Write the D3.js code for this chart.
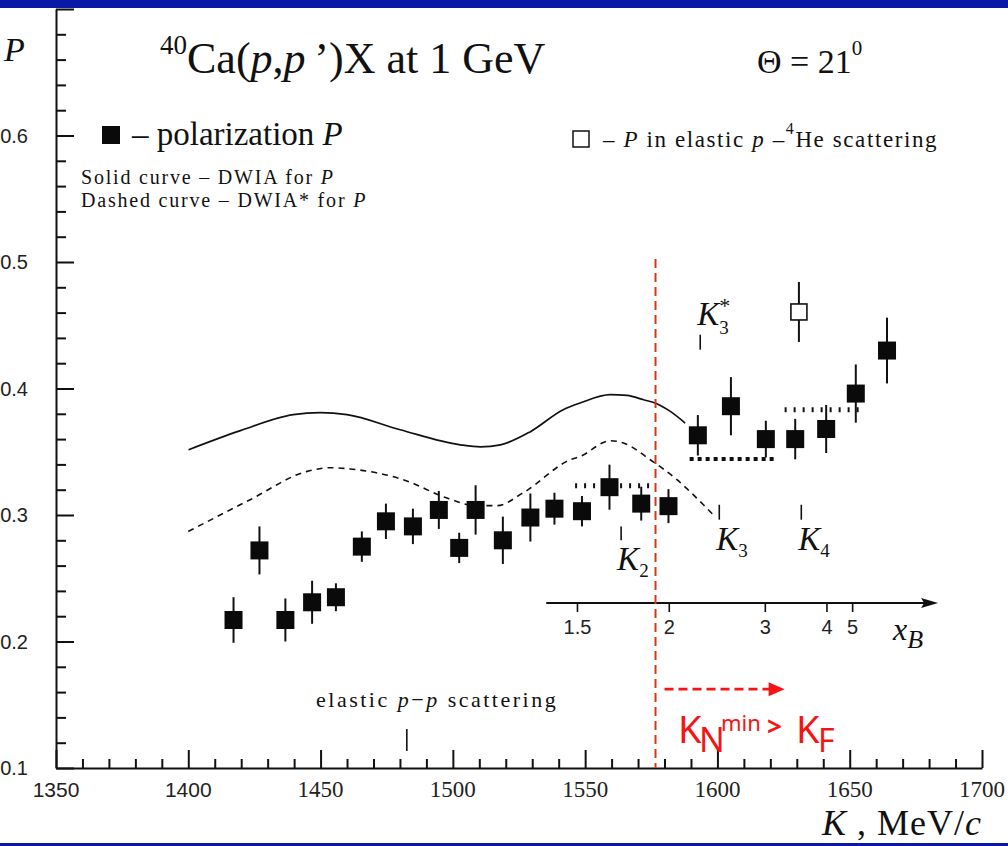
<!DOCTYPE html>
<html>
<head>
<meta charset="utf-8">
<script src="https://cdn.jsdelivr.net/npm/d3@7"></script>
<style>
  body { margin: 0; background: #fff; }
  svg { display: block; }
</style>
</head>
<body>
<div id="chart"></div>
<script>
// Data ----------------------------------------------------------------------------------------------------------------
// 40Ca(p,p')X polarization vs momentum K (MeV/c)
const kPoints = [1417.1, 1426.9, 1436.7, 1446.8, 1455.8, 1465.6, 1474.7, 1484.9, 1494.7, 1502.4, 1508.6, 1518.9, 1529.3,
  1538.4, 1548.8, 1559.2, 1571.2, 1581.5, 1592.6, 1605.1, 1618.3, 1629.4, 1641.1, 1652.3, 1664.1];
const polarization = [0.217, 0.272, 0.217, 0.231, 0.235, 0.275, 0.295, 0.291, 0.304, 0.274, 0.304, 0.280, 0.298,
  0.305, 0.303, 0.322, 0.309, 0.307, 0.363, 0.386, 0.360, 0.360, 0.368, 0.396, 0.430];
const polErrors = [0.018, 0.019, 0.017, 0.017, 0.011, 0.012, 0.014, 0.014, 0.015, 0.012, 0.0195, 0.0187, 0.019,
  0.0126, 0.012, 0.0178, 0.0134, 0.0134, 0.016, 0.023, 0.0145, 0.016, 0.019, 0.023, 0.026];

// elastic p-4He point
const heK = [1630.8];
const heP = [0.4605];
const heErr = [0.0237];

// DWIA (solid) and DWIA* (dashed) curves
const dwiaK = [1400.1, 1419.7, 1439.7, 1449.9, 1460.0, 1480.1, 1502.8, 1510.4, 1518.0, 1529.3, 1541.7, 1548.1, 1559.5,
  1565.8, 1572.1, 1577.1, 1582.2, 1587.8];
const dwiaP = [0.3516, 0.3667, 0.3793, 0.3809, 0.3793, 0.3674, 0.3555, 0.3539, 0.3555, 0.3659, 0.3832, 0.3885, 0.3951,
  0.3945, 0.3911, 0.3880, 0.3819, 0.3727];
const dwiaStarK = [1400.0, 1423.4, 1444.9, 1453.7, 1461.2, 1481.3, 1497.8, 1508.5, 1516.7, 1526.6, 1544.4, 1548.1,
  1559.5, 1564.5, 1574.6, 1584.7, 1594.7, 1598.4];
const dwiaStarP = [0.2870, 0.3121, 0.3345, 0.3374, 0.3364, 0.3279, 0.3134, 0.3074, 0.3074, 0.3176, 0.3437, 0.3463,
  0.3587, 0.3569, 0.3437, 0.3279, 0.3081, 0.3002];

// dotted plateau levels
const plateauStart = [1546.2, 1589.5, 1625.4];
const plateauEnd = [1574.6, 1622.0, 1653.7];
const plateauP = [0.3232, 0.3443, 0.3832];

// threshold markers
const markerNames = ["K2", "K3", "K4", "K3*"];
const markerK = [1563.6, 1600.7, 1631.7, 1593.5];
const markerLow = [0.280, 0.2963, 0.2963, 0.4307];
const markerHigh = [0.291, 0.3081, 0.3081, 0.4425];
const elasticK = 1482.6;

// Bjorken x axis
const xbLabels = ["1.5", "2", "3", "4", "5"];
const xbTickK = [1547.1, 1581.8, 1618.1, 1641.4, 1651.1];
const xbStartK = 1535.3;
const xbEndK = 1683.4;
const xbLevel = 0.2304;

// Fermi momentum line
const fermiK = 1576.6;

// Axis ticks
const xMajorTicks = [1350, 1400, 1450, 1500, 1550, 1600, 1650, 1700];
const yMajorTicks = [0.1, 0.2, 0.3, 0.4, 0.5, 0.6, 0.7];
const yTickLabels = ["0.1", "0.2", "0.3", "0.4", "0.5", "0.6"];

// Canvas -------------------------------------------------------------------------------------------------------------
const canvasWidth = 1008;
const canvasHeight = 846;
const serif = "'Liberation Serif', 'Times New Roman', serif";
const sans = "'Liberation Sans', Arial, sans-serif";

const svg = d3.select("#chart")
  .append("svg")
  .attr("width", canvasWidth)
  .attr("height", canvasHeight);

svg.append("rect").attr("width", canvasWidth).attr("height", canvasHeight).attr("fill", "#fff");

const xScale = d3.scaleLinear().domain([1350, 1700]).range([56, 982]);
const yScale = d3.scaleLinear().domain([0.1, 0.7]).range([768, 9]);

// Axes ---------------------------------------------------------------------------------------------------------------
const xMinor = d3.range(1350, 1701, 10).filter(v => v % 50 !== 0);
const yMinor = d3.range(10, 71, 2).map(v => v / 100).filter(v => Math.round(v * 100) % 10 !== 0);

const xAxis = svg.append("g").attr("transform", "translate(0," + yScale(0.1) + ")");
xAxis.call(d3.axisTop(xScale).tickValues(xMajorTicks).tickSize(18).tickSizeOuter(0).tickFormat(""));
xAxis.append("g").call(d3.axisTop(xScale).tickValues(xMinor).tickSize(9).tickSizeOuter(0).tickFormat(""))
  .select(".domain").remove();

const yAxis = svg.append("g").attr("transform", "translate(" + xScale(1350) + ",0)");
yAxis.call(d3.axisRight(yScale).tickValues(yMajorTicks).tickSize(18).tickSizeOuter(0).tickFormat(""));
yAxis.append("g").call(d3.axisRight(yScale).tickValues(yMinor).tickSize(10).tickSizeOuter(0).tickFormat(""))
  .select(".domain").remove();

svg.selectAll(".domain, .tick line").attr("stroke", "#111").attr("stroke-width", 2);

svg.selectAll(".xlabel")
  .data(xMajorTicks)
  .enter()
  .append("text")
  .attr("x", d => xScale(d))
  .attr("y", 797)
  .attr("text-anchor", "middle")
  .style("font-family", d => d < 1450 ? sans : serif)
  .style("font-size", d => d < 1450 ? "21px" : "23px")
  .attr("fill", "#222")
  .text(d => d);

svg.selectAll(".ylabel")
  .data(yTickLabels)
  .enter()
  .append("text")
  .attr("x", 28)
  .attr("y", d => yScale(+d) + 7)
  .attr("text-anchor", "end")
  .style("font-family", sans)
  .style("font-size", "20px")
  .attr("fill", "#222")
  .text(d => d);

// Curves -------------------------------------------------------------------------------------------------------------
const line = d3.line().x(d => xScale(d[0])).y(d => yScale(d[1])).curve(d3.curveMonotoneX);

svg.append("path")
  .datum(d3.zip(dwiaK, dwiaP))
  .attr("d", line)
  .attr("fill", "none")
  .attr("stroke", "#111")
  .attr("stroke-width", 1.7);

svg.append("path")
  .datum(d3.zip(dwiaStarK, dwiaStarP))
  .attr("d", line)
  .attr("fill", "none")
  .attr("stroke", "#111")
  .attr("stroke-width", 1.6)
  .attr("stroke-dasharray", "6,5");

// Plateaus
svg.selectAll(".plateau")
  .data(d3.range(plateauP.length))
  .enter()
  .append("line")
  .attr("x1", i => xScale(plateauStart[i]))
  .attr("x2", i => xScale(plateauEnd[i]))
  .attr("y1", i => yScale(plateauP[i]))
  .attr("y2", i => yScale(plateauP[i]))
  .attr("stroke", "#111")
  .attr("stroke-width", i => i === 1 ? 4 : 5)
  .attr("stroke-dasharray", i => i === 1 ? "4,4" : "2,7");

// Data points --------------------------------------------------------------------------------------------------------
const squareSize = 18;
const points = d3.zip(kPoints, polarization, polErrors);

svg.selectAll(".err")
  .data(points)
  .enter()
  .append("line")
  .attr("x1", d => xScale(d[0]))
  .attr("x2", d => xScale(d[0]))
  .attr("y1", d => yScale(d[1] - d[2]))
  .attr("y2", d => yScale(d[1] + d[2]))
  .attr("stroke", "#111")
  .attr("stroke-width", 2);

svg.selectAll(".pt")
  .data(points)
  .enter()
  .append("rect")
  .attr("x", d => xScale(d[0]) - squareSize / 2)
  .attr("y", d => yScale(d[1]) - squareSize / 2)
  .attr("width", squareSize)
  .attr("height", squareSize)
  .attr("fill", "#0a0a0a");

const hePoints = d3.zip(heK, heP, heErr);
svg.selectAll(".heErr")
  .data(hePoints)
  .enter()
  .append("line")
  .attr("x1", d => xScale(d[0]))
  .attr("x2", d => xScale(d[0]))
  .attr("y1", d => yScale(d[1] - d[2]))
  .attr("y2", d => yScale(d[1] + d[2]))
  .attr("stroke", "#111")
  .attr("stroke-width", 2);
svg.selectAll(".hePt")
  .data(hePoints)
  .enter()
  .append("rect")
  .attr("x", d => xScale(d[0]) - 8)
  .attr("y", d => yScale(d[1]) - 8)
  .attr("width", 16)
  .attr("height", 16)
  .attr("fill", "#fff")
  .attr("stroke", "#111")
  .attr("stroke-width", 1.6);

// Markers ------------------------------------------------------------------------------------------------------------
svg.selectAll(".marker")
  .data(d3.range(markerNames.length))
  .enter()
  .append("line")
  .attr("x1", i => xScale(markerK[i]))
  .attr("x2", i => xScale(markerK[i]))
  .attr("y1", i => yScale(markerLow[i]))
  .attr("y2", i => yScale(markerHigh[i]))
  .attr("stroke", "#111")
  .attr("stroke-width", 1.6);

svg.append("line")
  .attr("x1", xScale(elasticK)).attr("x2", xScale(elasticK))
  .attr("y1", yScale(0.1) - 17).attr("y2", yScale(0.1) - 39)
  .attr("stroke", "#111").attr("stroke-width", 1.6);

function kLabel(x, y, sub, sup) {
  const t = svg.append("text")
    .attr("x", x).attr("y", y)
    .style("font-family", serif)
    .attr("fill", "#111");
  t.append("tspan").style("font-style", "italic").style("font-size", "33px").text("K");
  if (sup) {
    t.append("tspan").style("font-size", "22px").attr("dy", -12).text(sup);
    t.append("tspan").style("font-size", "19px").attr("dx", -11).attr("dy", 21).text(sub);
  } else {
    t.append("tspan").style("font-size", "19px").attr("dy", 7).text(sub);
  }
}
kLabel(xScale(markerK[0]) - 4, 570, "2");
kLabel(xScale(markerK[1]) - 3, 550, "3");
kLabel(xScale(markerK[2]) - 3, 550, "4");
kLabel(xScale(markerK[3]) - 3, 325, "3", "*");

// Bjorken x axis -----------------------------------------------------------------------------------------------------
const xbY = yScale(xbLevel);
svg.append("line")
  .attr("x1", xScale(xbStartK)).attr("x2", xScale(xbEndK) - 10)
  .attr("y1", xbY).attr("y2", xbY)
  .attr("stroke", "#111").attr("stroke-width", 2);
svg.append("path")
  .attr("d", "M" + xScale(xbEndK) + "," + xbY + "l-17,-5l3,5l-3,5z")
  .attr("fill", "#111");
svg.selectAll(".xbTick")
  .data(xbTickK)
  .enter()
  .append("line")
  .attr("x1", d => xScale(d)).attr("x2", d => xScale(d))
  .attr("y1", xbY).attr("y2", xbY + 9)
  .attr("stroke", "#111").attr("stroke-width", 1.6);
svg.selectAll(".xbLabel")
  .data(xbLabels)
  .enter()
  .append("text")
  .attr("x", (d, i) => xScale(xbTickK[i]))
  .attr("y", xbY + 31)
  .attr("text-anchor", "middle")
  .style("font-family", sans)
  .style("font-size", "20px")
  .attr("fill", "#222")
  .text(d => d);
const xbTitle = svg.append("text").attr("x", 893).attr("y", 640).style("font-family", serif).attr("fill", "#111");
xbTitle.append("tspan").style("font-style", "italic").style("font-size", "32px").text("x");
xbTitle.append("tspan").style("font-style", "italic").style("font-size", "26px").attr("dy", 8).text("B");

// Fermi line and arrow -----------------------------------------------------------------------------------------------
svg.append("line")
  .attr("x1", xScale(fermiK)).attr("x2", xScale(fermiK))
  .attr("y1", yScale(0.5024)).attr("y2", yScale(0.1))
  .attr("stroke", "#d13b12").attr("stroke-width", 2)
  .attr("stroke-dasharray", "9,5");

const arrowY = yScale(0.1623);
svg.append("line")
  .attr("x1", xScale(1580.0)).attr("x2", xScale(1619.5))
  .attr("y1", arrowY).attr("y2", arrowY)
  .attr("stroke", "#f51414").attr("stroke-width", 2.8)
  .attr("stroke-dasharray", "9,5");
svg.append("path")
  .attr("d", "M" + xScale(1625.4) + "," + arrowY + "l-16,-7v14z")
  .attr("fill", "#f51414");

const fermiText = svg.append("text").attr("y", 743).style("font-family", "'Noto Sans', sans-serif").attr("fill", "#f51414");
fermiText.append("tspan").attr("x", 678).style("font-size", "38px").text("K");
fermiText.append("tspan").attr("x", 699).attr("dy", 9).style("font-size", "34px").text("N");
fermiText.append("tspan").attr("x", 721).attr("dy", -21).style("font-size", "22px").text("min");
fermiText.append("tspan").attr("x", 767).attr("dy", 5).style("font-size", "26px").style("font-weight", "bold").text(">");
fermiText.append("tspan").attr("x", 796).attr("dy", 7).style("font-size", "38px").text("K");
fermiText.append("tspan").attr("x", 818).attr("dy", 9).style("font-size", "32px").text("F");

// Texts --------------------------------------------------------------------------------------------------------------
svg.append("text").attr("x", 4).attr("y", 61).style("font-family", serif)
  .style("font-style", "italic").style("font-size", "34px").attr("fill", "#111").text("P");

const title = svg.append("text").attr("x", 160).attr("y", 73).style("font-family", serif).attr("fill", "#111");
title.append("tspan").style("font-size", "27px").attr("dy", -19).text("40");
title.append("tspan").style("font-size", "44px").attr("dy", 19).text("Ca(");
title.append("tspan").style("font-size", "44px").style("font-style", "italic").text("p");
title.append("tspan").style("font-size", "44px").text(",");
title.append("tspan").style("font-size", "44px").style("font-style", "italic").text("p");
title.append("tspan").style("font-size", "44px").text("\u2009\u2019)X at 1 GeV");

const theta = svg.append("text").attr("x", 757).attr("y", 73).style("font-family", serif).attr("fill", "#111");
theta.append("tspan").style("font-size", "34px").text("\u0398 = 21");
theta.append("tspan").style("font-size", "21px").attr("dy", -18).text("0");

svg.append("rect").attr("x", 102).attr("y", 126).attr("width", 18).attr("height", 18).attr("fill", "#0a0a0a");
const leg1 = svg.append("text").attr("x", 132).attr("y", 145).style("font-family", serif)
  .style("font-size", "33px").attr("fill", "#111");
leg1.append("tspan").text("\u2013 polarization ");
leg1.append("tspan").style("font-style", "italic").text("P");

const smallText = [
  ["Solid curve \u2013 DWIA for  ", 184],
  ["Dashed curve \u2013 DWIA* for  ", 207]
];
smallText.forEach(function(row) {
  const t = svg.append("text").attr("x", 81).attr("y", row[1]).style("font-family", serif)
    .style("font-size", "20px").style("letter-spacing", "1.8px").attr("fill", "#111");
  t.append("tspan").text(row[0]);
  t.append("tspan").style("font-style", "italic").text("P");
});

svg.append("rect").attr("x", 573).attr("y", 131).attr("width", 16).attr("height", 16)
  .attr("fill", "#fff").attr("stroke", "#111").attr("stroke-width", 1.5);
const leg2 = svg.append("text").attr("x", 603).attr("y", 147).style("font-family", serif)
  .style("font-size", "23px").style("letter-spacing", "1.6px").attr("fill", "#111");
leg2.append("tspan").text("\u2013  ");
leg2.append("tspan").style("font-style", "italic").text("P");
leg2.append("tspan").text(" in elastic  ");
leg2.append("tspan").style("font-style", "italic").text("p");
leg2.append("tspan").text(" \u2013");
leg2.append("tspan").style("font-size", "16px").attr("dx", 0).attr("dy", -13).text("4");
leg2.append("tspan").attr("dy", 13).text("He scattering");

const elastic = svg.append("text").attr("x", 316).attr("y", 707).style("font-family", serif)
  .style("font-size", "22px").style("letter-spacing", "2.5px").attr("fill", "#111");
elastic.append("tspan").text("elastic ");
elastic.append("tspan").style("font-style", "italic").text("p");
elastic.append("tspan").text("\u2212");
elastic.append("tspan").style("font-style", "italic").text("p");
elastic.append("tspan").text(" scattering");

const kTitle = svg.append("text").attr("x", 982).attr("y", 835).attr("text-anchor", "end")
  .style("font-family", serif).style("font-size", "36px").style("letter-spacing", "1px").attr("fill", "#111");
kTitle.append("tspan").style("font-style", "italic").text("K");
kTitle.append("tspan").text(" , MeV/");
kTitle.append("tspan").style("font-style", "italic").text("c");

// Slide frame bars
svg.append("rect").attr("x", 0).attr("y", 0).attr("width", canvasWidth).attr("height", 8).attr("fill", "#0a18a8");
svg.append("rect").attr("x", 0).attr("y", 843).attr("width", canvasWidth).attr("height", 3).attr("fill", "#0a18a8");
</script>
</body>
</html>
